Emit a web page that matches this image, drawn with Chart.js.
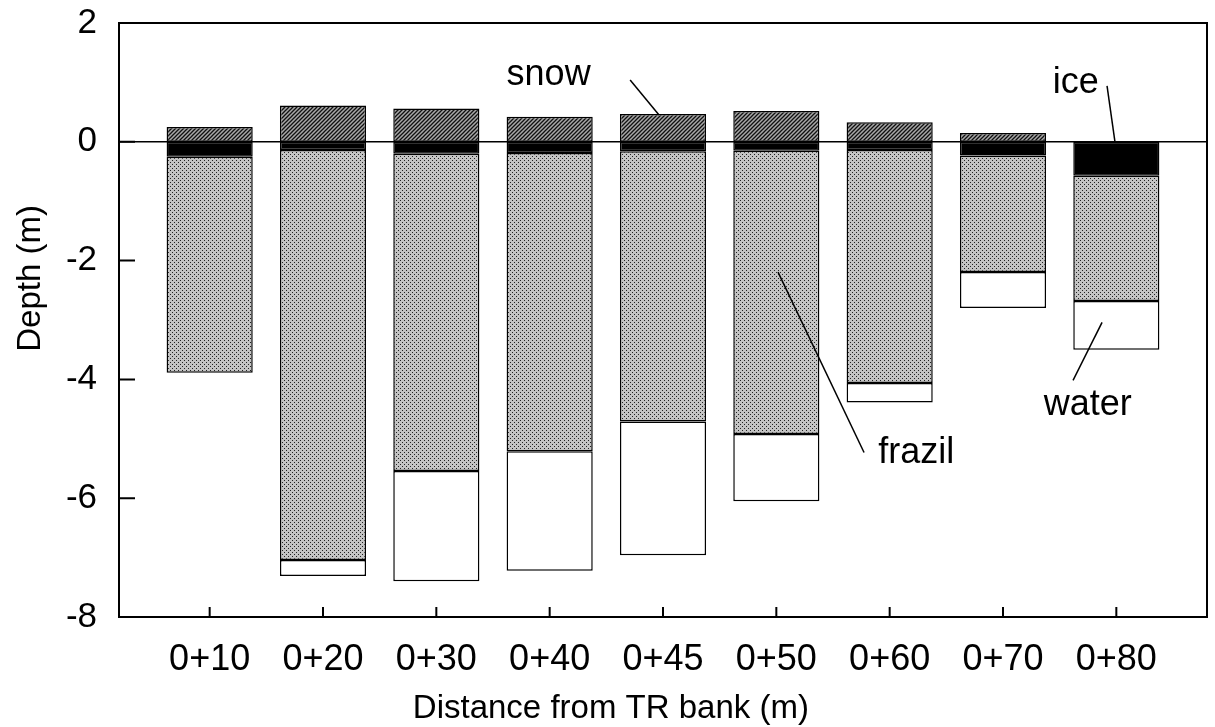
<!DOCTYPE html>
<html>
<head>
<meta charset="utf-8">
<script src="https://cdn.jsdelivr.net/npm/chart.js@4"></script>
<style>
  html, body { margin: 0; padding: 0; background: #fff; }
  #wrap { width: 1215px; height: 727px; }
</style>
</head>
<body>
<div id="wrap"><canvas id="chart" width="1215" height="727"></canvas></div>
<script>
// categorie (distanza dalla riva TR)
const categories = ['0+10', '0+20', '0+30', '0+40', '0+45', '0+50', '0+60', '0+70', '0+80'];

// quote dei limiti degli strati (m)
const snowTop      = [0.25, 0.61, 0.56, 0.42, 0.47, 0.52, 0.33, 0.15, null];
const iceBottom    = [-0.25, -0.14, -0.20, -0.19, -0.16, -0.15, -0.14, -0.23, -0.57];
const frazilBottom = [-3.89, -7.04, -5.54, -5.21, -4.71, -4.92, -4.06, -2.19, -2.68];
const waterBottom  = [null, -7.31, -7.40, -7.22, -6.96, -6.05, -4.39, -2.80, -3.50];

const yTicks = [-8, -6, -4, -2, 0, 2];

// etichette di testo con linea di richiamo (coordinate nei valori degli assi)
const notes = [
  { text: 'snow',   x: 2.62, y: 0.955,  line: [3.71, 1.04, 3.965, 0.45] },
  { text: 'ice',    x: 7.44, y: 0.82,   line: [7.918, 0.94, 7.988, 0.0] },
  { text: 'frazil', x: 5.90, y: -5.40,  line: [5.015, -2.195, 5.774, -5.23] },
  { text: 'water',  x: 7.36, y: -4.605, line: [7.874, -3.04, 7.618, -4.015] }
];

// titoli degli assi (centro del testo, in valori degli assi)
const xTitle = { text: 'Distance from TR bank (m)', x: 3.54, y: -9.55 };
const yTitle = { text: 'Depth (m)', x: -1.58, y: -2.3 };

const FONT = "'Liberation Sans', Arial, Helvetica, sans-serif";

// motivi di riempimento
function hatchPattern() {
  const c = document.createElement('canvas');
  c.width = 4; c.height = 4;
  const g = c.getContext('2d');
  g.fillStyle = '#a8a8a8';
  g.fillRect(0, 0, 4, 4);
  g.strokeStyle = '#111';
  g.lineWidth = 1.3;
  g.beginPath();
  g.moveTo(-1, 5); g.lineTo(5, -1);
  g.moveTo(-3, 3); g.lineTo(3, -3);
  g.moveTo(1, 7); g.lineTo(7, 1);
  g.stroke();
  return g.createPattern(c, 'repeat');
}

function dotPattern() {
  const c = document.createElement('canvas');
  c.width = 4; c.height = 4;
  const g = c.getContext('2d');
  g.fillStyle = '#c4c4c4';
  g.fillRect(0, 0, 4, 4);
  g.fillStyle = '#222';
  g.fillRect(0, 0, 1, 1);
  g.fillRect(2, 2, 1, 1);
  return g.createPattern(c, 'repeat');
}

function span(tops, bottoms) {
  return categories.map((c, i) => {
    if (tops[i] == null || bottoms[i] == null) return { x: i, y: null };
    return { x: i, y: [bottoms[i], tops[i]] };
  });
}
const zeros = categories.map(() => 0);

const barStyle = {
  borderColor: '#000',
  borderWidth: 1.5,
  borderSkipped: false,
  grouped: false,
  barPercentage: 0.76,
  categoryPercentage: 1
};

// cornice, linea dello zero, tacche interne, etichette
const framePlugin = {
  id: 'frame',
  beforeDatasetsDraw(chart) {
    const { ctx, chartArea: a, scales: { y } } = chart;
    const y0 = y.getPixelForValue(0);
    ctx.save();
    ctx.strokeStyle = '#000';
    ctx.lineWidth = 1.5;
    ctx.beginPath();
    ctx.moveTo(a.left, y0);
    ctx.lineTo(a.right, y0);
    ctx.stroke();
    ctx.restore();
  },
  afterDraw(chart) {
    const { ctx, chartArea: a, scales: { x, y } } = chart;
    ctx.save();
    ctx.strokeStyle = '#000';
    ctx.lineWidth = 2;
    ctx.strokeRect(a.left, a.top, a.right - a.left, a.bottom - a.top);
    ctx.beginPath();
    yTicks.forEach(v => {
      const py = y.getPixelForValue(v);
      ctx.moveTo(a.left, py);
      ctx.lineTo(a.left + 16, py);
    });
    categories.forEach((c, i) => {
      const px = x.getPixelForValue(i);
      ctx.moveTo(px, a.bottom);
      ctx.lineTo(px, a.bottom - 10);
    });
    ctx.stroke();

    ctx.lineWidth = 1.5;
    ctx.fillStyle = '#000';
    ctx.font = '36px ' + FONT;
    ctx.textBaseline = 'alphabetic';
    notes.forEach(n => {
      const l = n.line;
      ctx.beginPath();
      ctx.moveTo(x.getPixelForValue(l[0]), y.getPixelForValue(l[1]));
      ctx.lineTo(x.getPixelForValue(l[2]), y.getPixelForValue(l[3]));
      ctx.stroke();
      ctx.fillText(n.text, x.getPixelForValue(n.x), y.getPixelForValue(n.y));
    });

    // titoli
    ctx.font = '33px ' + FONT;
    ctx.textAlign = 'center';
    ctx.textBaseline = 'middle';
    ctx.fillText(xTitle.text, x.getPixelForValue(xTitle.x), y.getPixelForValue(xTitle.y));
    ctx.translate(x.getPixelForValue(yTitle.x), y.getPixelForValue(yTitle.y));
    ctx.rotate(-Math.PI / 2);
    ctx.fillText(yTitle.text, 0, 0);
    ctx.restore();
  }
};

const config = {
  type: 'bar',
  data: {
    datasets: [
      Object.assign({ label: 'snow',   data: span(snowTop, zeros),          backgroundColor: hatchPattern() }, barStyle),
      Object.assign({ label: 'ice',    data: span(zeros, iceBottom),        backgroundColor: '#000' }, barStyle),
      Object.assign({ label: 'frazil', data: span(iceBottom, frazilBottom), backgroundColor: dotPattern() }, barStyle),
      Object.assign({ label: 'water',  data: span(frazilBottom, waterBottom), backgroundColor: '#fff' }, barStyle)
    ]
  },
  options: {
    responsive: false,
    animation: false,
    layout: { padding: { top: 23, right: 8, left: 0, bottom: 0 } },
    plugins: { legend: { display: false }, tooltip: { enabled: false } },
    scales: {
      x: {
        type: 'linear',
        offset: false,
        min: -0.8,
        max: 8.8,
        grid: { display: false, drawTicks: false },
        border: { display: false },
        afterBuildTicks: s => { s.ticks = categories.map((c, i) => ({ value: i })); },
        afterFit: s => { s.height = 110; s.paddingLeft = 0; s.paddingRight = 0; },
        ticks: {
          autoSkip: false,
          maxRotation: 0,
          padding: 21,
          color: '#000',
          font: { family: FONT, size: 36 },
          callback: v => categories[v]
        }
      },
      y: {
        min: -8,
        max: 2,
        grid: { display: false, drawTicks: false },
        border: { display: false },
        afterBuildTicks: s => { s.ticks = yTicks.map(v => ({ value: v })); },
        afterFit: s => { s.width = 119; s.paddingTop = 0; s.paddingBottom = 0; },
        ticks: {
          padding: 22,
          color: '#000',
          font: { family: FONT, size: 35 }
        }
      }
    }
  },
  plugins: [framePlugin]
};

const ctx = document.getElementById('chart').getContext('2d');
const chart = new Chart(ctx, config);
</script>
</body>
</html>
